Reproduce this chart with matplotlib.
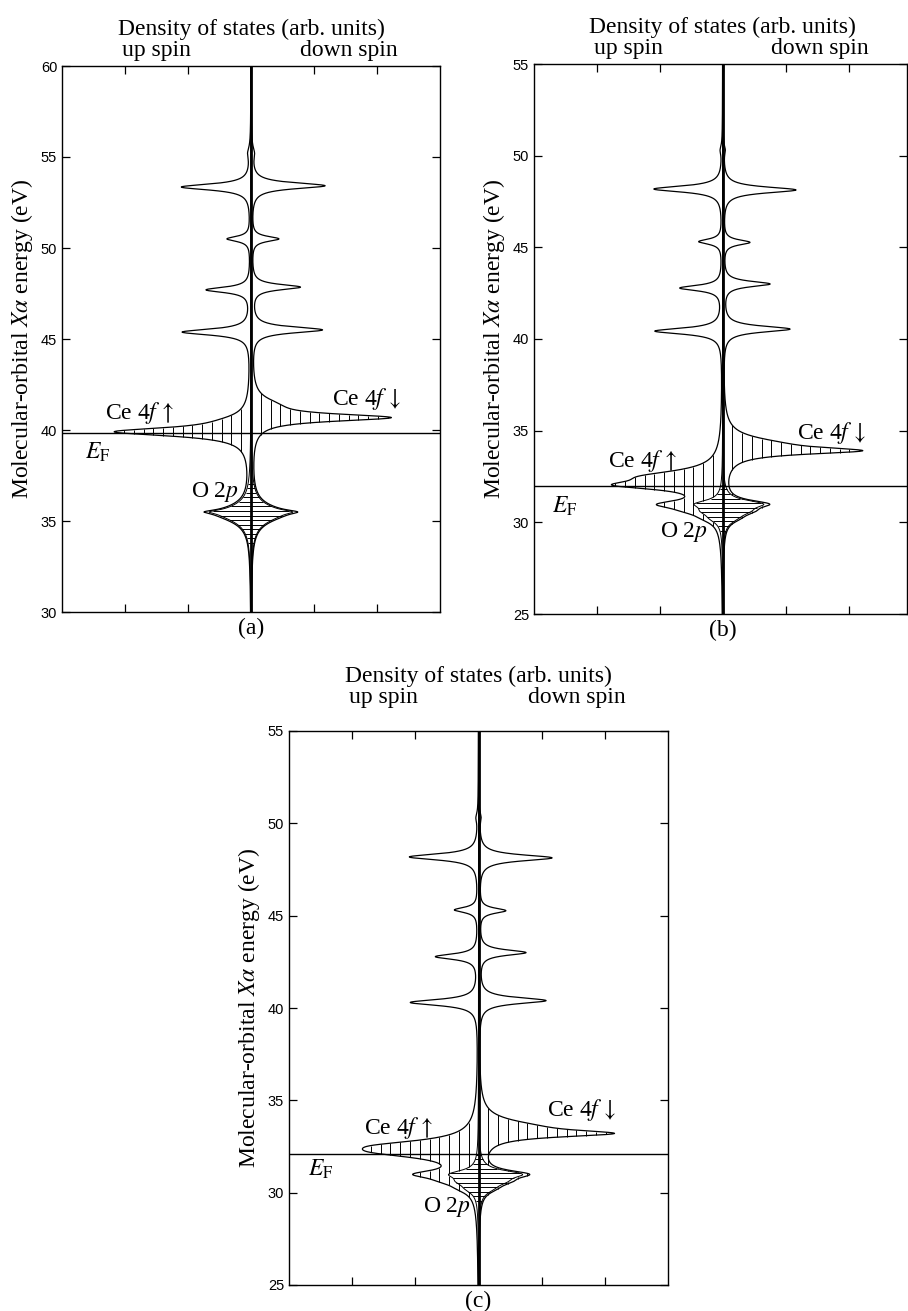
import matplotlib.pyplot as plt
import numpy as np
from matplotlib.collections import LineCollection

plt.rcParams['mathtext.fontset'] = 'stix'
plt.rcParams['font.family'] = ['Liberation Serif', 'DejaVu Serif']
SANS = 'Liberation Sans'

# each level: (energy eV, peak height in arb. units, half width eV)
# ---- panel (a) ----
a_ylim = (30, 60)
a_yticks = [30, 35, 40, 45, 50, 55, 60]
a_fermi = 39.85
a_up_val = [(55.2, 0.04, 0.4), (53.35, 1.10, 0.2), (50.5, 0.37, 0.17), (47.7, 0.70, 0.18), (45.38, 1.08, 0.2)]
a_dn_val = [(55.2, 0.04, 0.4), (53.42, 1.17, 0.2), (50.5, 0.43, 0.17), (47.85, 0.77, 0.18), (45.5, 1.12, 0.2)]
a_up_ce = [(39.9, 2.1, 0.28), (40.5, 0.2, 0.4)]
a_dn_ce = [(40.68, 2.15, 0.24), (41.4, 0.25, 0.45)]
a_up_o2p = [(35.5, 0.25, 0.12), (35.4, 0.5, 0.55)]
a_dn_o2p = [(35.5, 0.25, 0.12), (35.4, 0.5, 0.55)]
a_ce_window = (37.0, 44.0)
a_o2p_window = (33.3, 37.5)
a_labels = [(-2.32, 40.6, r"Ce 4$f\,\uparrow$"), (1.29, 41.37, r"Ce 4$f\,\downarrow$"),
            (-2.63, 38.4, r"$E_\mathrm{F}$"), (-0.96, 36.3, r"O 2$p$")]

# ---- panel (b) ----
b_ylim = (25, 55)
b_yticks = [25, 30, 35, 40, 45, 50, 55]
b_fermi = 31.98
b_up_val = [(50.3, 0.03, 0.3), (48.18, 1.09, 0.2), (45.31, 0.37, 0.17), (42.78, 0.67, 0.18), (40.43, 1.07, 0.2)]
b_dn_val = [(50.3, 0.03, 0.3), (48.13, 1.16, 0.2), (45.27, 0.42, 0.17), (43.0, 0.74, 0.18), (40.54, 1.06, 0.2)]
b_up_ce = [(32.02, 1.28, 0.28), (32.5, 1.0, 0.4), (30.94, 0.4, 0.3)]
b_dn_ce = [(33.9, 1.88, 0.22), (34.3, 0.6, 0.45)]
b_up_o2p = [(31.0, 0.4, 0.25), (30.6, 0.25, 0.3), (30.2, 0.12, 0.3)]
b_dn_o2p = [(31.0, 0.6, 0.25), (30.6, 0.3, 0.3), (30.2, 0.12, 0.3)]
b_ce_window = (29.5, 37.0)
b_o2p_window = (29.3, 33.5)
b_labels = [(-1.83, 33.0, r"Ce 4$f\,\uparrow$"), (1.18, 34.57, r"Ce 4$f\,\downarrow$"),
            (-2.71, 30.5, r"$E_\mathrm{F}$"), (-1.0, 29.2, r"O 2$p$")]

# ---- panel (c) ----
c_ylim = (25, 55)
c_yticks = [25, 30, 35, 40, 45, 50, 55]
c_fermi = 32.12
c_up_val = [(50.3, 0.03, 0.3), (48.18, 1.09, 0.2), (45.31, 0.37, 0.17), (42.78, 0.67, 0.18), (40.3, 1.07, 0.2)]
c_dn_val = [(50.3, 0.03, 0.3), (48.13, 1.16, 0.2), (45.27, 0.42, 0.17), (43.0, 0.74, 0.18), (40.4, 1.06, 0.2)]
c_up_ce = [(32.2, 1.19, 0.4), (32.55, 1.0, 0.35), (30.98, 0.35, 0.3)]
c_dn_ce = [(33.2, 1.8, 0.22), (33.6, 0.6, 0.45)]
c_up_o2p = [(31.0, 0.42, 0.25), (30.6, 0.25, 0.3), (30.2, 0.12, 0.3)]
c_dn_o2p = [(31.0, 0.65, 0.25), (30.6, 0.3, 0.3), (30.2, 0.12, 0.3)]
c_ce_window = (29.5, 36.5)
c_o2p_window = (29.3, 33.5)
c_labels = [(-1.82, 33.15, r"Ce 4$f\,\uparrow$"), (1.08, 34.13, r"Ce 4$f\,\downarrow$"),
            (-2.70, 30.9, r"$E_\mathrm{F}$"), (-0.88, 28.98, r"O 2$p$")]

o2p_share = 0.9


def dos(E, levels):
    out = np.zeros_like(E)
    for e0, h, g in levels:
        out += h / (1 + ((E - e0) / g) ** 2)
    return out


def runs(mask):
    d = np.diff(np.concatenate([[0], mask.astype(int), [0]]))
    return zip(np.where(d == 1)[0], np.where(d == -1)[0] - 1)


def panel(ax, ylim, yticks, fermi, up_val, dn_val, up_ce, dn_ce, up_o2p, dn_o2p,
          ce_win, o2p_win, labels, tag, xmax=3.0, head=(26, 5)):
    E = np.linspace(ylim[0], ylim[1], 4000)
    segs_v, segs_h = [], []
    inner = {}
    for side, val, ce, o2p in [(-1, up_val, up_ce, up_o2p), (1, dn_val, dn_ce, dn_o2p)]:
        op = dos(E, o2p)
        tot = dos(E, val) + dos(E, ce) + op
        part = op * o2p_share
        inner[side] = part
        ax.plot(side * tot, E, color='k', lw=0.9)
        ax.plot(side * part, E, color='k', lw=0.7)
        # vertical hatching of the Ce 4f band
        for x in np.arange(0.155, tot.max(), 0.155):
            m = (tot >= x) & (part < x) & (E >= ce_win[0]) & (E <= ce_win[1])
            for s, e in runs(m):
                segs_v.append([(side * x, E[s]), (side * x, E[e])])
    # horizontal hatching of the O 2p band
    for y in np.arange(o2p_win[0], o2p_win[1], 0.25):
        lu = np.interp(y, E, inner[-1])
        rd = np.interp(y, E, inner[1])
        if max(lu, rd) > 0.04:
            segs_h.append([(-lu, y), (rd, y)])
    ax.add_collection(LineCollection(segs_v, colors='k', linewidths=0.7))
    ax.add_collection(LineCollection(segs_h, colors='k', linewidths=0.7))
    ax.axvline(0, color='k', lw=2.0)
    ax.axhline(fermi, color='k', lw=1.0)

    ax.set_xlim(-3, xmax)
    ax.set_ylim(*ylim)
    ax.set_xticks([-2, -1, 0, 1, 2])
    ax.set_xticklabels([])
    ax.set_yticks(yticks)
    ax.tick_params(direction='in', length=6, width=0.9, top=True, right=True,
                   labelright=False, labelsize=10.5)
    for lab in ax.get_yticklabels():
        lab.set_fontfamily(SANS)
    for sp in ax.spines.values():
        sp.set_linewidth(1.0)

    for x, y, s in labels:
        ax.text(x, y, s, fontsize=17, ha='left', va='baseline')
    ax.set_ylabel(r"Molecular-orbital $X\alpha$ energy (eV)", fontsize=17, labelpad=4)
    ax.annotate("Density of states (arb. units)", xy=(0, 1), xycoords=('data', 'axes fraction'),
                xytext=(0, head[0]), textcoords='offset pixels', ha='center', va='bottom', fontsize=17)
    ax.annotate("up spin", xy=(-1.5, 1), xycoords=('data', 'axes fraction'),
                xytext=(0, head[1]), textcoords='offset pixels', ha='center', va='bottom', fontsize=17)
    ax.annotate("down spin", xy=(1.55, 1), xycoords=('data', 'axes fraction'),
                xytext=(0, head[1]), textcoords='offset pixels', ha='center', va='bottom', fontsize=17)
    ax.annotate(tag, xy=(0, 0), xycoords=('data', 'axes fraction'),
                xytext=(0, -6), textcoords='offset pixels', ha='center', va='top', fontsize=17)


W, H = 908, 1311
fig = plt.figure(figsize=(W / 100, H / 100), dpi=100)
ax_a = fig.add_axes([62 / W, 1 - 612 / H, (440 - 62) / W, (612 - 66) / H])
ax_b = fig.add_axes([534 / W, 1 - 614 / H, (907 - 534) / W, (614 - 64) / H])
ax_c = fig.add_axes([289 / W, 1 - 1285 / H, (668 - 289) / W, (1285 - 731) / H])

panel(ax_a, a_ylim, a_yticks, a_fermi, a_up_val, a_dn_val, a_up_ce, a_dn_ce, a_up_o2p, a_dn_o2p,
      a_ce_window, a_o2p_window, a_labels, "(a)")
panel(ax_b, b_ylim, b_yticks, b_fermi, b_up_val, b_dn_val, b_up_ce, b_dn_ce, b_up_o2p, b_dn_o2p,
      b_ce_window, b_o2p_window, b_labels, "(b)", xmax=2.93)
panel(ax_c, c_ylim, c_yticks, c_fermi, c_up_val, c_dn_val, c_up_ce, c_dn_ce, c_up_o2p, c_dn_o2p,
      c_ce_window, c_o2p_window, c_labels, "(c)", head=(44, 23))

fig.savefig("out.png", dpi=100)
